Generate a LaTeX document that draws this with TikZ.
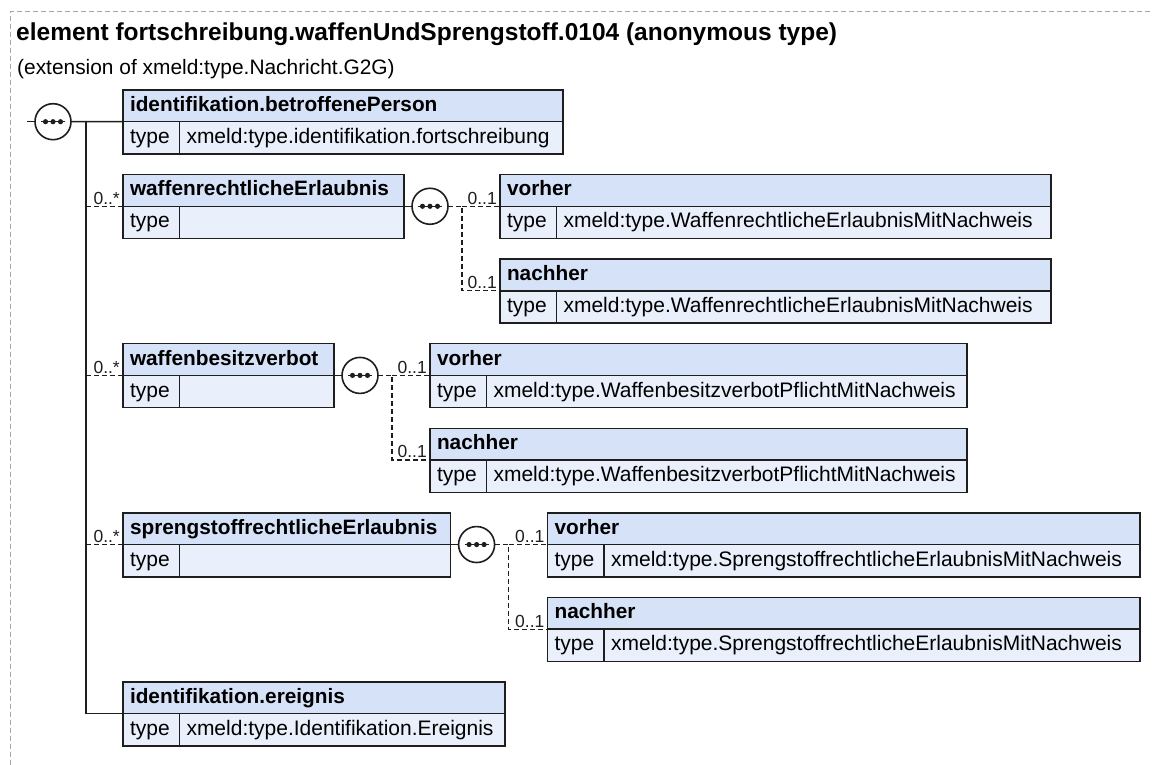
\documentclass[tikz,border=0pt]{standalone}
\usepackage{fontspec}
\setmainfont{Liberation Sans}
\definecolor{hdrfill}{RGB}{214,226,247}
\definecolor{rowfill}{RGB}{233,240,251}
\definecolor{edge}{RGB}{30,30,30}
\definecolor{framegray}{RGB}{165,165,165}
\tikzset{
  cell/.style={draw=edge, line width=1.4pt, rectangle, inner xsep=7pt, inner ysep=0pt, outer sep=0pt,
    text height=15.5pt, text depth=4.5pt, font=\fontsize{21}{25}\selectfont},
  hdr/.style={cell, fill=hdrfill, minimum height=31.7pt, font=\fontsize{20.8}{25}\selectfont\bfseries},
  tcell/.style={cell, fill=rowfill, minimum height=32.3pt},
  vcell/.style={cell, fill=rowfill, minimum height=32.3pt},
  seqc/.style={circle, draw=edge, line width=1.6pt, fill=white, minimum size=36pt, inner sep=0pt, outer sep=0pt},
  conn/.style={draw=edge, line width=1.5pt},
  opt/.style={draw=edge, line width=1.2pt, dash pattern=on 5pt off 3pt},
  mult/.style={font=\fontsize{17.5}{20}\selectfont, inner sep=0pt, text=edge},
  framestyle/.style={draw=framegray, line width=1pt, dash pattern=on 5pt off 3pt},
  ttl/.style={font=\fontsize{24.5}{29}\selectfont\bfseries, inner sep=0pt, anchor=base west},
  subttl/.style={font=\fontsize{20.9}{25}\selectfont, inner sep=0pt, anchor=base west}
}
\newcommand{\xelem}[6]{%
  \pgfmathsetmacro{\hw}{#4-14}%
  \pgfmathsetmacro{\vw}{#4-56.5-14}%
  \node[hdr, anchor=north west] (#1) at (#2,#3) {\makebox[\hw pt][l]{#5}};
  \node[tcell, anchor=north west] (#1t) at (#1.south west) {\makebox[42.5pt][l]{type}};
  \node[vcell, anchor=north west] (#1v) at (#1t.north east) {\makebox[\vw pt][l]{#6}};
}
\newcommand{\seqdots}[1]{%
  \draw[edge, line width=1.2pt] ([xshift=-12pt]#1.center) -- ([xshift=12pt]#1.center);
  \fill[edge] ([xshift=-7.5pt]#1.center) circle[radius=2.6];
  \fill[edge] (#1.center) circle[radius=2.6];
  \fill[edge] ([xshift=7.5pt]#1.center) circle[radius=2.6];
}
\begin{document}
\begin{tikzpicture}[x=1pt,y=-1pt]
\useasboundingbox (0,0) rectangle (1153,765);
% frame
\draw[framestyle] (10,765) -- (10,12) -- (1153,12);
% title
\node[ttl] (title) at (16,41) {element fortschreibung.waffenUndSprengstoff.0104 (anonymous type)};
\node[subttl] (subtitle) at (17,75) {(extension of xmeld:type.Nachricht.G2G)};

% elements
\xelem{b1}{123}{90}{440}{identifikation.betroffenePerson}{xmeld:type.identifikation.fortschreibung}
\xelem{b2}{123}{174.57}{281}{waffenrechtlicheErlaubnis}{}
\xelem{b2a}{500}{174.57}{551}{vorher}{xmeld:type.WaffenrechtlicheErlaubnisMitNachweis}
\xelem{b2b}{500}{259.14}{551}{nachher}{xmeld:type.WaffenrechtlicheErlaubnisMitNachweis}
\xelem{b3}{123}{343.71}{211}{waffenbesitzverbot}{}
\xelem{b3a}{430}{343.71}{537}{vorher}{xmeld:type.WaffenbesitzverbotPflichtMitNachweis}
\xelem{b3b}{430}{428.28}{537}{nachher}{xmeld:type.WaffenbesitzverbotPflichtMitNachweis}
\xelem{b4}{123}{512.85}{327.6}{sprengstoffrechtlicheErlaubnis}{}
\xelem{b4a}{547.6}{512.85}{592.4}{vorher}{xmeld:type.SprengstoffrechtlicheErlaubnisMitNachweis}
\xelem{b4b}{547.6}{597.42}{592.4}{nachher}{xmeld:type.SprengstoffrechtlicheErlaubnisMitNachweis}
\xelem{b5}{123}{682}{382}{identifikation.ereignis}{xmeld:type.Identifikation.Ereignis}

% compositors
\node[seqc] (c0) at (53,121.7) {};
\node[seqc] (c2) at ([xshift=26pt]b2.south east) {};
\node[seqc] (c3) at ([xshift=26pt]b3.south east) {};
\node[seqc] (c4) at ([xshift=26pt]b4.south east) {};
\seqdots{c0}\seqdots{c2}\seqdots{c3}\seqdots{c4}

\coordinate (rootin) at (27,121.7);
\coordinate (vtop) at (86,121.7);
\coordinate (j2) at ([xshift=32pt]c2.center);
\coordinate (j3) at ([xshift=32pt]c3.center);
\coordinate (j4) at ([xshift=32pt]c4.center);

% root connectors
\draw[conn] (rootin) -- (c0.west);
\draw[conn] (c0.east) -- (b1.south west);
\draw[conn] (vtop) |- (b5.south west);
\draw[opt] (vtop |- b2.south west) -- (b2.south west);
\draw[opt] (vtop |- b3.south west) -- (b3.south west);
\draw[opt] (vtop |- b4.south west) -- (b4.south west);

% sub-sequences
\draw[conn] (b2.south east) -- (c2.west);
\draw[opt] (c2.east) -- (j2) |- (b2b.south west);
\draw[opt] (j2) -- (b2a.south west);
\draw[conn] (b3.south east) -- (c3.west);
\draw[opt] (c3.east) -- (j3) |- (b3b.south west);
\draw[opt] (j3) -- (b3a.south west);
\draw[conn] (b4.south east) -- (c4.west);
\draw[opt] (c4.east) -- (j4) |- (b4b.south west);
\draw[opt] (j4) -- (b4a.south west);

% multiplicities
\node[mult, anchor=base east] (m2) at ([xshift=-3pt,yshift=2pt]b2.south west) {0..*};
\node[mult, anchor=base east] (m3) at ([xshift=-3pt,yshift=2pt]b3.south west) {0..*};
\node[mult, anchor=base east] (m4) at ([xshift=-3pt,yshift=2pt]b4.south west) {0..*};
\node[mult, anchor=base east] (m2a) at ([xshift=-3pt,yshift=2pt]b2a.south west) {0..1};
\node[mult, anchor=base east] (m2b) at ([xshift=-3pt,yshift=2pt]b2b.south west) {0..1};
\node[mult, anchor=base east] (m3a) at ([xshift=-3pt,yshift=2pt]b3a.south west) {0..1};
\node[mult, anchor=base east] (m3b) at ([xshift=-3pt,yshift=2pt]b3b.south west) {0..1};
\node[mult, anchor=base east] (m4a) at ([xshift=-3pt,yshift=2pt]b4a.south west) {0..1};
\node[mult, anchor=base east] (m4b) at ([xshift=-3pt,yshift=2pt]b4b.south west) {0..1};
\end{tikzpicture}
\end{document}
